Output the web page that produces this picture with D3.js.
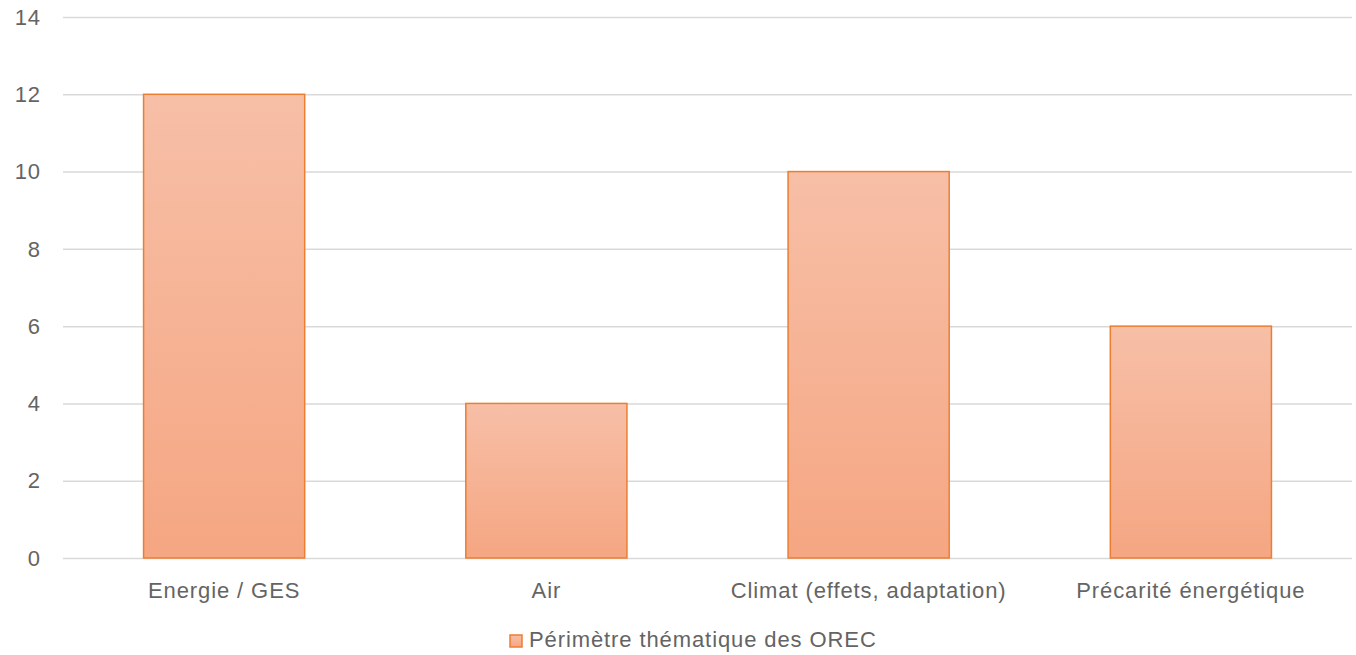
<!DOCTYPE html>
<html><head><meta charset="utf-8">
<script src="https://cdn.jsdelivr.net/npm/d3@7"></script>
<style>
body{margin:0;background:#fff;}
text{font-family:"Liberation Sans",Arial,sans-serif;fill:#646464;letter-spacing:0.9px;}
</style></head>
<body><svg id="c" width="1356" height="655"></svg>
<script>
const categories = ["Energie / GES", "Air", "Climat (effets, adaptation)", "Précarité énergétique"];
const values = [12, 4, 10, 6];
const yTicks = [0, 2, 4, 6, 8, 10, 12, 14];
const seriesName = "Périmètre thématique des OREC";

const svg = d3.select("#c");
const mLeft = 63, mRight = 1352, mTop = 17, mBottom = 558;
const x = d3.scaleBand().domain(categories).range([mLeft, mRight]).paddingInner(0.5).paddingOuter(0.25);
const y = d3.scaleLinear().domain([0, 14]).range([mBottom, mTop]);

const defs = svg.append("defs");
const g = defs.append("linearGradient").attr("id","bg").attr("x1",0).attr("y1",0).attr("x2",0).attr("y2",1);
g.append("stop").attr("offset","0%").attr("stop-color","#F7BFA7");
g.append("stop").attr("offset","100%").attr("stop-color","#F5A682");

svg.append("g").selectAll("line").data(yTicks).join("line")
  .attr("x1", mLeft).attr("x2", mRight)
  .attr("y1", d => y(d)+0.5).attr("y2", d => y(d)+0.5)
  .attr("stroke", "#D9D9D9").attr("stroke-width", 1.5);

svg.append("g").selectAll("text").data(yTicks).join("text")
  .attr("x", 41).attr("y", d => y(d)).attr("dy", "0.35em")
  .attr("text-anchor", "end").attr("font-size", 22).text(d => d);

svg.append("g").selectAll("rect").data(values).join("rect")
  .attr("x", (d,i) => x(categories[i]))
  .attr("width", x.bandwidth())
  .attr("y", d => y(d))
  .attr("height", d => y(0) - y(d))
  .attr("fill", "url(#bg)")
  .attr("stroke", "#ED7D31").attr("stroke-width", 1.5);

svg.append("g").selectAll("text").data(categories).join("text")
  .attr("x", d => x(d) + x.bandwidth()/2).attr("y", 590).attr("dy","0.35em")
  .attr("text-anchor", "middle").attr("font-size", 22).text(d => d);

const lg = svg.append("g");
lg.append("rect").attr("x", 510).attr("y", 635).attr("width", 12).attr("height", 12)
  .attr("fill", "url(#bg)").attr("stroke", "#ED7D31").attr("stroke-width", 1.5);
lg.append("text").attr("x", 529).attr("y", 639).attr("dy","0.35em").attr("font-size", 22).text(seriesName);
</script></body></html>
